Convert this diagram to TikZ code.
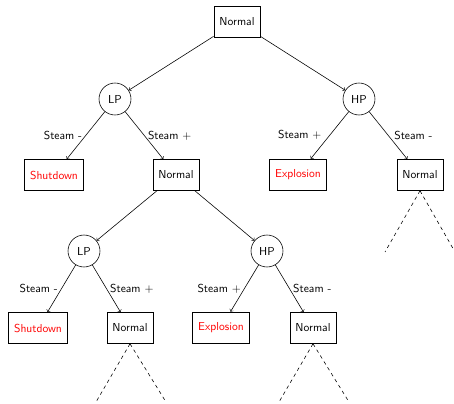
\documentclass[tikz,border=0pt]{standalone}
\usetikzlibrary{arrows}
\begin{document}
\begin{tikzpicture}[x=0.866pt,y=-0.866pt,
  font=\sffamily, line width=0.5pt,
  state/.style={draw, rectangle, inner xsep=4.9pt, inner ysep=0pt, minimum height=26.8pt},
  bad/.style={state, text=red},
  chance/.style={draw, circle, inner sep=0pt, minimum size=27.7pt},
  edge/.style={->, >=to},
  lab/.style={inner sep=3pt},
  more/.style={dashed}]
\useasboundingbox (0,0) rectangle (454,403);

% top level
\node[state] (n0) at (237,21.5) {Normal};
\node[chance] (lp1) at (115,99) {LP};
\node[chance] (hp1) at (359,99) {HP};

% first round of outcomes
\node[bad] (sd1) at (54,175) {Shutdown};
\node[state] (n1) at (176,175) {Normal};
\node[bad] (ex1) at (298,174.5) {Explosion};
\node[state] (n2) at (420,175) {Normal};

% second level
\node[chance] (lp2) at (84,251) {LP};
\node[chance] (hp2) at (267,251) {HP};
\node[bad] (sd2) at (38,328) {Shutdown};
\node[state] (n3) at (130,328) {Normal};
\node[bad] (ex2) at (221,327.5) {Explosion};
\node[state] (n4) at (313,328) {Normal};

% loose ends of the tree
\coordinate (a1) at (385,252);
\coordinate (a2) at (455,252);
\coordinate (b1) at (96,402);
\coordinate (b2) at (166,402);
\coordinate (c1) at (279,402);
\coordinate (c2) at (349,402);

\draw[edge] (n0) -- (lp1);
\draw[edge] (n0) -- (hp1);
\draw[edge] (lp1) -- node[lab, left, pos=0.5] {Steam -} (sd1);
\draw[edge] (lp1) -- node[lab, right, pos=0.5] {Steam +} (n1);
\draw[edge] (hp1) -- node[lab, left, pos=0.5, xshift=-4pt] {Steam +} (ex1);
\draw[edge] (hp1) -- node[lab, right, pos=0.5, xshift=2pt] {Steam -} (n2);

\draw[edge] (n1) -- (lp2);
\draw[edge] (n1) -- (hp2);
\draw[edge] (lp2) -- node[lab, left, pos=0.5] {Steam -} (sd2);
\draw[edge] (lp2) -- node[lab, right, pos=0.5] {Steam +} (n3);
\draw[edge] (hp2) -- node[lab, left, pos=0.5] {Steam +} (ex2);
\draw[edge] (hp2) -- node[lab, right, pos=0.5] {Steam -} (n4);

\draw[more] (n2.south) -- (a1);
\draw[more] (n2.south) -- (a2);
\draw[more] (n3.south) -- (b1);
\draw[more] (n3.south) -- (b2);
\draw[more] (n4.south) -- (c1);
\draw[more] (n4.south) -- (c2);
\end{tikzpicture}
\end{document}
